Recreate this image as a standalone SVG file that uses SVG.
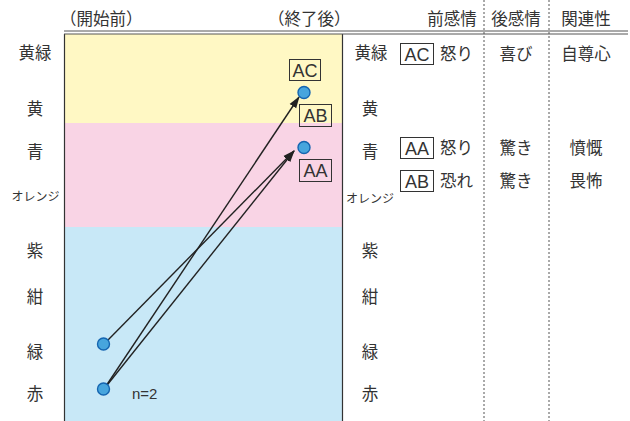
<svg xmlns="http://www.w3.org/2000/svg" width="630" height="421" viewBox="0 0 630 421">
<style>
text{font-family:"Noto Sans CJK JP","Liberation Sans",sans-serif;fill:#333;}
.t{font-size:16.5px;}
.s{font-size:12px;}
.m{text-anchor:middle;}
.lat{font-family:"Liberation Sans",sans-serif;font-size:18px;}
.box{fill:none;stroke:#333;stroke-width:1;}
.dot{fill:#47a5dd;stroke:#1565b0;stroke-width:1.4;}
.con{stroke:#222;stroke-width:1.4;fill:none;}
.dash{stroke:#555;stroke-width:1;stroke-dasharray:2,2;}
</style>
<defs>
<marker id="ah" viewBox="0 0 12 10" refX="11" refY="5" markerWidth="12" markerHeight="10" markerUnits="userSpaceOnUse" orient="auto">
<path d="M0,1 L12,5 L0,9 Z" fill="#222"/>
</marker>
</defs>
<g id="bands">
<rect x="64" y="34" width="278" height="89" fill="#fff8c4"/>
<rect x="64" y="123" width="278" height="104" fill="#f9d4e5"/>
<rect x="64" y="227" width="278" height="194" fill="#c8e8f7"/>
<line x1="64.5" y1="34" x2="64.5" y2="421" stroke="#333" stroke-width="1.2"/>
<line x1="342.5" y1="34" x2="342.5" y2="421" stroke="#333" stroke-width="1.2"/>
<line x1="64" y1="31" x2="628" y2="31" stroke="#555" stroke-width="1"/>
<line x1="64" y1="34" x2="628" y2="34" stroke="#555" stroke-width="1"/>
<line class="dash" x1="484" y1="0" x2="484" y2="421"/>
<line class="dash" x1="549" y1="0" x2="549" y2="421"/>
</g>
<g id="headers">
<text class="t" x="60" y="24.5">（開始前）</text>
<text class="t" x="268" y="24.5">（終了後）</text>
<text class="t m" x="452" y="24.5">前感情</text>
<text class="t m" x="516" y="24.5">後感情</text>
<text class="t m" x="586" y="24.5">関連性</text>
</g>
<g id="labels-left">
<text class="t m" x="35" y="58.5">黄緑</text>
<text class="t m" x="35" y="114.5">黄</text>
<text class="t m" x="35" y="157.5">青</text>
<text class="s m" x="35.5" y="201">オレンジ</text>
<text class="t m" x="35" y="256.5">紫</text>
<text class="t m" x="35" y="302.5">紺</text>
<text class="t m" x="35" y="357.5">緑</text>
<text class="t m" x="35" y="399.5">赤</text>
</g>
<g id="labels-right">
<text class="t m" x="371" y="58.5">黄緑</text>
<text class="t m" x="370" y="114.5">黄</text>
<text class="t m" x="370" y="157.5">青</text>
<text class="s m" x="370" y="202.5">オレンジ</text>
<text class="t m" x="370" y="256.5">紫</text>
<text class="t m" x="370" y="302.5">紺</text>
<text class="t m" x="370" y="357.5">緑</text>
<text class="t m" x="370" y="399.5">赤</text>
</g>
<g id="table">
<rect class="box" x="400.5" y="43.5" width="33" height="21"/>
<text class="m lat" x="417" y="60.5">AC</text>
<text class="t" x="440" y="59.5">怒り</text>
<text class="t m" x="516" y="59.5">喜び</text>
<text class="t m" x="586" y="59.5">自尊心</text>
<rect class="box" x="400.5" y="137.5" width="33" height="21"/>
<text class="m lat" x="417" y="154.5">AA</text>
<text class="t" x="440" y="154">怒り</text>
<text class="t m" x="516" y="154">驚き</text>
<text class="t m" x="586" y="154">憤慨</text>
<rect class="box" x="400.5" y="170.5" width="33" height="21"/>
<text class="m lat" x="417" y="187.5">AB</text>
<text class="t" x="440" y="187">恐れ</text>
<text class="t m" x="516" y="187">驚き</text>
<text class="t m" x="586" y="187">畏怖</text>
</g>
<g id="connectors">
<line class="con" x1="104" y1="389" x2="299" y2="97" marker-end="url(#ah)"/>
<line class="con" x1="104" y1="389" x2="294" y2="151" marker-end="url(#ah)"/>
<line class="con" x1="108" y1="340" x2="294" y2="151" marker-end="url(#ah)"/>
</g>
<g id="node-AC">
<rect class="box" x="289.5" y="59.5" width="31" height="21"/>
<text class="m lat" x="305" y="76.5">AC</text>
<circle class="dot" cx="304" cy="92.5" r="6"/>
</g>
<g id="node-AB">
<rect class="box" x="299.5" y="104.5" width="32" height="22"/>
<text class="m lat" x="315.5" y="122">AB</text>
</g>
<g id="node-AA">
<circle class="dot" cx="304" cy="147.5" r="6"/>
<rect class="box" x="299.5" y="159.5" width="32" height="22"/>
<text class="m lat" x="315.5" y="177">AA</text>
</g>
<g id="node-green">
<circle class="dot" cx="103.5" cy="344" r="6"/>
</g>
<g id="node-red">
<circle class="dot" cx="103.5" cy="389" r="6"/>
<text class="lat" x="132" y="398.5" style="font-size:15px">n=2</text>
</g>
</svg>
